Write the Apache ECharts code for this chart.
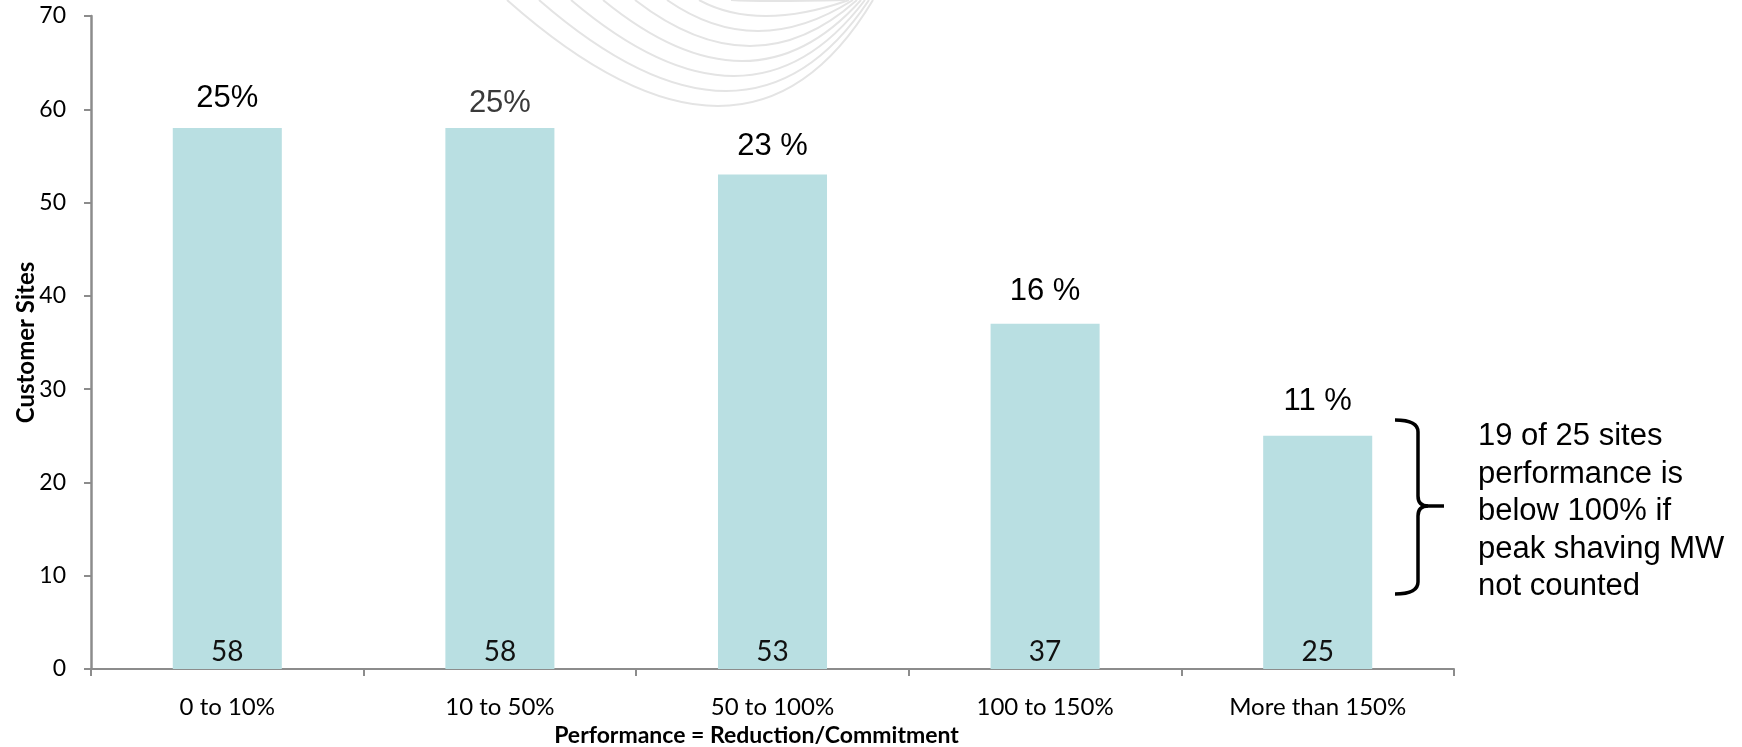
<!DOCTYPE html>
<html>
<head>
<meta charset="utf-8">
<script src="https://cdn.jsdelivr.net/npm/echarts@6/dist/echarts.min.js"></script>
<style>
  html, body { margin: 0; padding: 0; background: #fff; }
  #chart { width: 1742px; height: 747px; }
</style>
</head>
<body>
<div id="chart"></div>
<script>
// data
var categories = ['0 to 10%', '10 to 50%', '50 to 100%', '100 to 150%', 'More than 150%']
var sites = [58, 58, 53, 37, 25]
var shares = ['25%', '25%', '23 %', '16 %', '11 %']
var yTicks = { min: 0, max: 70, interval: 10 }
var note = ['19 of 25 sites', 'performance is', 'below 100% if', 'peak shaving MW', 'not counted']

// hand-placed share labels sit a bit unevenly above the bars
var shareLift = [14, 9, 13, 17, 19]
var shareColor = ['#000', '#3a3a3a', '#000', '#000', '#000']

var barColor = '#b9dfe2'
var axisColor = '#8c8c8c'
var calibri = 'Lato'
var arial = 'Liberation Sans'

// faint swoosh lines from the slide background
function swoosh() {
  var out = []
  for (var i = 0; i < 8; i++) {
    var left = 507 + i * 32
    var right = 873 - i * 4
    var depth = 106 - i * 15
    var bottomX = 718 + i * 8
    out.push({
      type: 'bezierCurve',
      silent: true,
      z: -1,
      shape: {
        x1: left, y1: 0, x2: right, y2: 0,
        cpx1: 2 * (bottomX - 0.25 * left - 0.25 * right), cpy1: 2 * depth
      },
      style: { stroke: '#e4e4e4', lineWidth: 2, fill: null }
    })
  }
  return out
}

// curly brace next to the last bar
function brace() {
  var pen = { stroke: '#000', lineWidth: 3.5, fill: null }
  var bits = [
    { type: 'bezierCurve', shape: { x1: 1395, y1: 420, cpx1: 1418, cpy1: 420, x2: 1418, y2: 432 } },
    { type: 'line', shape: { x1: 1418, y1: 432, x2: 1418, y2: 496 } },
    { type: 'bezierCurve', shape: { x1: 1418, y1: 496, cpx1: 1418, cpy1: 506, x2: 1428, y2: 506 } },
    { type: 'line', shape: { x1: 1428, y1: 506, x2: 1444, y2: 506 } },
    { type: 'bezierCurve', shape: { x1: 1428, y1: 506, cpx1: 1418, cpy1: 506, x2: 1418, y2: 516 } },
    { type: 'line', shape: { x1: 1418, y1: 516, x2: 1418, y2: 582 } },
    { type: 'bezierCurve', shape: { x1: 1418, y1: 582, cpx1: 1418, cpy1: 594, x2: 1395, y2: 594 } }
  ]
  bits.forEach(function(b) {
    b.silent = true
    b.style = pen
  })
  return bits
}

var chart = echarts.init(document.getElementById('chart'))

chart.setOption({
  animation: false,
  grid: { left: 91, right: 288, top: 16, bottom: 78, outerBoundsMode: 'none' },
  xAxis: {
    type: 'category',
    data: categories,
    name: 'Performance = Reduction/Commitment',
    nameLocation: 'middle',
    nameGap: 55,
    nameTextStyle: {
      fontFamily: calibri, fontWeight: 'bold', fontSize: 23, color: '#000',
      padding: [0, 32, 0, 0]
    },
    axisLine: { lineStyle: { color: axisColor, width: 2 } },
    axisTick: { show: true, length: 7, lineStyle: { color: axisColor, width: 2 } },
    axisLabel: { margin: 26, fontFamily: calibri, fontSize: 24, color: '#000' }
  },
  yAxis: {
    type: 'value',
    min: yTicks.min,
    max: yTicks.max,
    interval: yTicks.interval,
    name: 'Customer Sites',
    nameLocation: 'middle',
    nameRotate: 90,
    nameGap: 53,
    nameMoveOverlap: false,
    nameTextStyle: { fontFamily: calibri, fontWeight: 'bold', fontSize: 24, color: '#000' },
    axisLine: { show: true, lineStyle: { color: axisColor, width: 2.5 } },
    axisTick: { show: true, length: 7, lineStyle: { color: axisColor, width: 2 } },
    splitLine: { show: false },
    axisLabel: { margin: 25, fontFamily: calibri, fontSize: 23, color: '#000' }
  },
  series: [
    {
      type: 'bar',
      data: sites,
      barWidth: '40%',
      itemStyle: { color: barColor },
      label: {
        show: true,
        position: 'insideBottom',
        distance: 3,
        fontFamily: calibri,
        fontSize: 28,
        color: '#111'
      }
    },
    {
      type: 'bar',
      silent: true,
      barGap: '-100%',
      barWidth: '40%',
      itemStyle: { color: 'rgba(0,0,0,0)' },
      data: sites.map(function(v, i) {
        return { value: v, label: { distance: shareLift[i], color: shareColor[i] } }
      }),
      label: {
        show: true,
        position: 'top',
        fontFamily: arial,
        fontSize: 31,
        formatter: function(p) { return shares[p.dataIndex] }
      }
    }
  ],
  graphic: swoosh().concat(brace()).concat([
    {
      type: 'text',
      silent: true,
      x: 1478,
      y: 418,
      style: {
        text: note.join('\n'),
        fontFamily: arial,
        fontSize: 31,
        lineHeight: 37.5,
        fill: '#000'
      }
    }
  ])
})
</script>
</body>
</html>
